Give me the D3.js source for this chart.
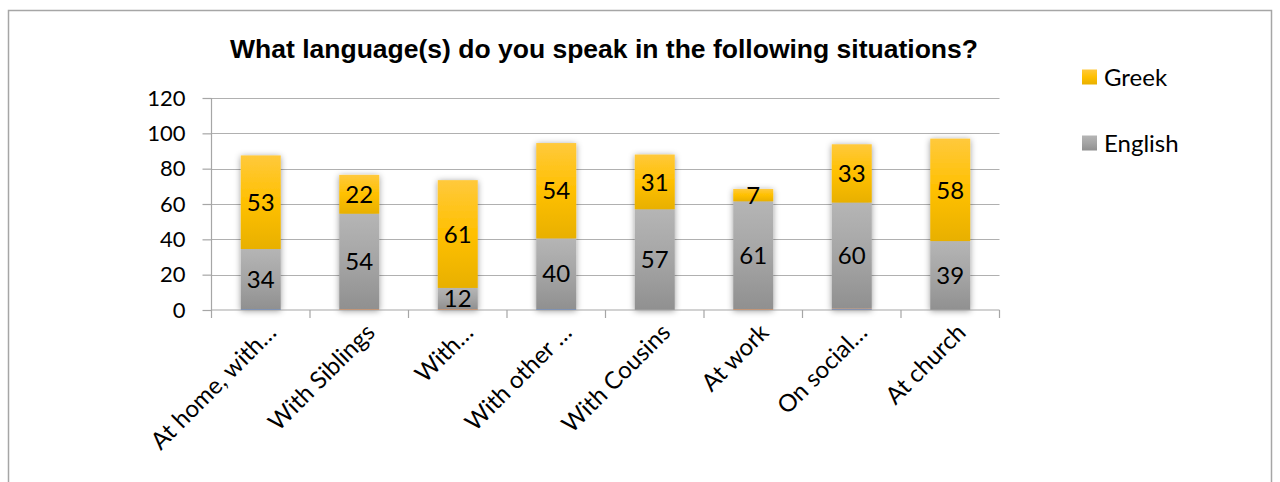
<!DOCTYPE html>
<html lang="en">
  <head>
    <meta charset="utf-8" />
    <title>Languages spoken by situation</title>
    <script src="https://d3js.org/d3.v7.min.js"></script>
    <style type="text/css">
      body { margin: 0; background: #fff; }
      text { font-family: Lato, 'Noto Sans', sans-serif; fill: #000; }
    </style>
  </head>
  <body>
    <script type="text/javascript">
      //Data
      const categories = ['At home, with…', 'With Siblings', 'With…', 'With other …', 'With Cousins', 'At work', 'On social…', 'At church'];
      const english = [34, 54, 12, 40, 57, 61, 60, 39];
      const greek = [53, 22, 61, 54, 31, 7, 33, 58];
      // two near-zero series that only show as a thin line at the base
      const otherA = [0.5, 0, 0, 0.5, 0, 0, 0.5, 0];
      const otherB = [0, 0.5, 0.5, 0, 0, 0.5, 0.3, 0];
      const yTicks = [0, 20, 40, 60, 80, 100, 120];

      const w = 1280;
      const h = 482;
      const plot = { left: 211.5, right: 999.5, top: 98, bottom: 310 };

      const rows = categories.map((c, i) => ({
        cat: c, otherA: otherA[i], otherB: otherB[i], english: english[i], greek: greek[i]
      }));
      const keys = ['otherA', 'otherB', 'english', 'greek'];
      const stacked = d3.stack().keys(keys)(rows);

      const xScale = d3.scaleBand().domain(categories).range([plot.left, plot.right]).paddingInner(0).paddingOuter(0);
      const yScale = d3.scaleLinear().domain([0, 120]).range([plot.bottom, plot.top]);
      const barW = 40;

      const svg = d3.select('body').append('svg').attr('width', w).attr('height', h);
      const defs = svg.append('defs');

      //Gradients for each series
      const grads = {
        greek: ['#ffc93c', '#ffc000', '#e8b000'],
        english: ['#b5b5b5', '#a5a5a5', '#909090'],
        otherA: ['#4472c4', '#4472c4', '#4472c4'],
        otherB: ['#ed7d31', '#ed7d31', '#ed7d31']
      };
      Object.keys(grads).forEach((k) => {
        const g = defs.append('linearGradient').attr('id', 'g-' + k).attr('x1', 0).attr('y1', 0).attr('x2', 0).attr('y2', 1);
        g.append('stop').attr('offset', '0%').attr('stop-color', grads[k][0]);
        g.append('stop').attr('offset', '50%').attr('stop-color', grads[k][1]);
        g.append('stop').attr('offset', '100%').attr('stop-color', grads[k][2]);
      });

      const shadow = defs.append('filter').attr('id', 'shadow').attr('x', '-50%').attr('y', '-20%').attr('width', '200%').attr('height', '140%');
      shadow.append('feDropShadow').attr('dx', 0).attr('dy', 1).attr('stdDeviation', 3)
        .attr('flood-color', '#000').attr('flood-opacity', 0.4);

      //Chart frame
      svg.append('rect').attr('x', 8.5).attr('y', 10.5).attr('width', 1263).attr('height', 500)
        .attr('fill', 'none').attr('stroke', '#a6a6a6').attr('stroke-width', 1.5);

      //Title
      svg.append('text').attr('x', 604).attr('y', 57.5).attr('text-anchor', 'middle')
        .style('font-family', "'Liberation Sans', Arial, sans-serif").style('font-weight', 'bold').style('font-size', '26.5px')
        .text('What language(s) do you speak in the following situations?');

      //Gridlines
      svg.append('g').selectAll('line').data(yTicks.filter((d) => d > 0)).enter().append('line')
        .attr('x1', plot.left).attr('x2', plot.right)
        .attr('y1', (d) => Math.round(yScale(d)) + 0.5).attr('y2', (d) => Math.round(yScale(d)) + 0.5)
        .attr('stroke', '#b0b0b0').attr('stroke-width', 1.2);

      //Y axis
      const yAxis = svg.append('g').attr('transform', `translate(${plot.left},0)`)
        .call(d3.axisLeft(yScale).tickValues(yTicks).tickSize(9).tickPadding(17));
      yAxis.selectAll('line, path').attr('stroke', '#a6a6a6').attr('stroke-width', 1.2);
      yAxis.select('.domain').attr('d', `M0,${plot.top}V${plot.bottom}`);
      yAxis.selectAll('text').style('font-size', '22px').style('font-family', 'Lato, sans-serif').attr('fill', '#000');

      //Bars
      const layers = svg.append('g').attr('filter', 'url(#shadow)').selectAll('g').data(stacked).enter().append('g')
        .attr('fill', (d) => `url(#g-${d.key})`);
      layers.selectAll('rect').data((d) => d).enter().append('rect')
        .attr('x', (d) => xScale(d.data.cat) + xScale.bandwidth() / 2 - barW / 2)
        .attr('y', (d) => yScale(d[1]))
        .attr('width', barW)
        .attr('height', (d) => yScale(d[0]) - yScale(d[1]));

      //Value labels
      stacked.filter((s) => s.key === 'english' || s.key === 'greek').forEach((s) => {
        svg.append('g').selectAll('text').data(s).enter().append('text')
          .attr('text-anchor', 'middle')
          .attr('x', (d) => xScale(d.data.cat) + xScale.bandwidth() / 2)
          .attr('y', (d) => (yScale(d[0]) + yScale(d[1])) / 2)
          .attr('dy', '0.36em')
          .style('font-size', '24px')
          .text((d) => d.data[s.key]);
      });

      //X axis
      const xAxis = svg.append('g').attr('transform', `translate(0,${plot.bottom})`)
        .call(d3.axisBottom(xScale).tickSize(0).tickFormat(''));
      xAxis.select('.domain').attr('stroke', '#a6a6a6').attr('stroke-width', 1.2).attr('d', `M${plot.left},0H${plot.right}`);
      svg.append('g').selectAll('line').data(d3.range(categories.length + 1)).enter().append('line')
        .attr('x1', (i) => plot.left + i * xScale.bandwidth()).attr('x2', (i) => plot.left + i * xScale.bandwidth())
        .attr('y1', plot.bottom).attr('y2', plot.bottom + 8)
        .attr('stroke', '#a6a6a6').attr('stroke-width', 1.2);
      svg.append('g').selectAll('text').data(categories).enter().append('text')
        .attr('text-anchor', 'end')
        .attr('transform', (d) => `translate(${xScale(d) + xScale.bandwidth() / 2 + 17},${plot.bottom + 24}) rotate(-45)`)
        .style('font-size', '24px')
        .text((d) => d);

      //Legend
      const legend = [{ key: 'greek', label: 'Greek', y: 77 }, { key: 'english', label: 'English', y: 143 }];
      const lg = svg.append('g').selectAll('g').data(legend).enter().append('g');
      lg.append('rect').attr('x', 1082).attr('y', (d) => d.y - 7.5).attr('width', 15).attr('height', 15)
        .attr('fill', (d) => `url(#g-${d.key})`);
      lg.append('text').attr('x', 1104).attr('y', (d) => d.y).attr('dy', '0.36em')
        .style('font-size', '24px').text((d) => d.label);
    </script>
  </body>
</html>
